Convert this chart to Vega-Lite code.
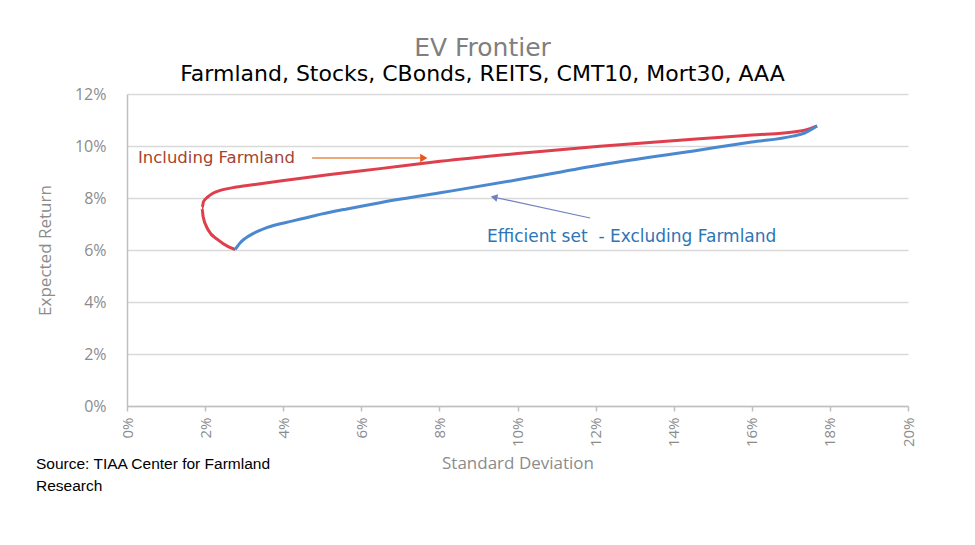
{
  "$schema": "https://vega.github.io/schema/vega-lite/v6.json",
  "width": 781,
  "height": 312,
  "autosize": "none",
  "padding": {"left": 127, "top": 94, "right": 67, "bottom": 139},
  "background": "white",
  "title": {
    "text": "EV Frontier",
    "subtitle": "Farmland, Stocks, CBonds, REITS, CMT10, Mort30, AAA",
    "anchor": "middle",
    "dx": -35,
    "font": "DejaVu Sans",
    "fontSize": 25,
    "fontWeight": "normal",
    "color": "#7f7f7f",
    "subtitleFont": "DejaVu Sans",
    "subtitleFontSize": 22,
    "subtitleColor": "#000000",
    "subtitlePadding": 3,
    "offset": 1
  },
  "config": {"view": {"stroke": null}},
  "datasets": {
    "curves": [
      {"series": "Including Farmland", "i": 0, "sd": 2.77, "ret": 6.02},
      {"series": "Including Farmland", "i": 1, "sd": 2.59, "ret": 6.13},
      {"series": "Including Farmland", "i": 2, "sd": 2.34, "ret": 6.38},
      {"series": "Including Farmland", "i": 3, "sd": 2.08, "ret": 6.77},
      {"series": "Including Farmland", "i": 4, "sd": 1.95, "ret": 7.28},
      {"series": "Including Farmland", "i": 5, "sd": 1.92, "ret": 7.62},
      {"series": "Including Farmland", "i": 6, "sd": 1.96, "ret": 7.86},
      {"series": "Including Farmland", "i": 7, "sd": 2.07, "ret": 8.04},
      {"series": "Including Farmland", "i": 8, "sd": 2.2, "ret": 8.18},
      {"series": "Including Farmland", "i": 9, "sd": 2.43, "ret": 8.31},
      {"series": "Including Farmland", "i": 10, "sd": 2.8, "ret": 8.42},
      {"series": "Including Farmland", "i": 11, "sd": 3.28, "ret": 8.52},
      {"series": "Including Farmland", "i": 12, "sd": 3.92, "ret": 8.65},
      {"series": "Including Farmland", "i": 13, "sd": 5.2, "ret": 8.9},
      {"series": "Including Farmland", "i": 14, "sd": 6.48, "ret": 9.13},
      {"series": "Including Farmland", "i": 15, "sd": 8.02, "ret": 9.41},
      {"series": "Including Farmland", "i": 16, "sd": 10.0, "ret": 9.71},
      {"series": "Including Farmland", "i": 17, "sd": 12.11, "ret": 9.99},
      {"series": "Including Farmland", "i": 18, "sd": 14.67, "ret": 10.28},
      {"series": "Including Farmland", "i": 19, "sd": 16.0, "ret": 10.42},
      {"series": "Including Farmland", "i": 20, "sd": 17.16, "ret": 10.56},
      {"series": "Including Farmland", "i": 21, "sd": 17.45, "ret": 10.65},
      {"series": "Including Farmland", "i": 22, "sd": 17.67, "ret": 10.77},
      {"series": "Excluding Farmland", "i": 0, "sd": 2.77, "ret": 6.02},
      {"series": "Excluding Farmland", "i": 1, "sd": 2.9, "ret": 6.28},
      {"series": "Excluding Farmland", "i": 2, "sd": 3.02, "ret": 6.44},
      {"series": "Excluding Farmland", "i": 3, "sd": 3.25, "ret": 6.65},
      {"series": "Excluding Farmland", "i": 4, "sd": 3.58, "ret": 6.86},
      {"series": "Excluding Farmland", "i": 5, "sd": 4.25, "ret": 7.12},
      {"series": "Excluding Farmland", "i": 6, "sd": 4.8, "ret": 7.32},
      {"series": "Excluding Farmland", "i": 7, "sd": 5.6, "ret": 7.57},
      {"series": "Excluding Farmland", "i": 8, "sd": 6.48, "ret": 7.82},
      {"series": "Excluding Farmland", "i": 9, "sd": 8.02, "ret": 8.2},
      {"series": "Excluding Farmland", "i": 10, "sd": 10.0, "ret": 8.7},
      {"series": "Excluding Farmland", "i": 11, "sd": 12.11, "ret": 9.27},
      {"series": "Excluding Farmland", "i": 12, "sd": 14.67, "ret": 9.85},
      {"series": "Excluding Farmland", "i": 13, "sd": 16.0, "ret": 10.15},
      {"series": "Excluding Farmland", "i": 14, "sd": 17.05, "ret": 10.38},
      {"series": "Excluding Farmland", "i": 15, "sd": 17.35, "ret": 10.5},
      {"series": "Excluding Farmland", "i": 16, "sd": 17.67, "ret": 10.77}
    ],
    "arrows": [
      {"name": "inc", "sd": 4.74, "ret": 9.54, "sd2": 7.6, "ret2": 9.54},
      {"name": "exc", "sd": 11.86, "ret": 7.23, "sd2": 9.4, "ret2": 8.03}
    ],
    "labels": [
      {"name": "inc", "sd": 0.28, "ret": 9.54, "label": "Including Farmland"},
      {"name": "exc", "sd": 9.22, "ret": 6.5, "label": "Efficient set\u00a0 - Excluding Farmland"},
      {"name": "src", "sd": -2.33, "ret": -1.95, "label": "Source: TIAA Center for Farmland\nResearch"}
    ]
  },
  "layer": [
    {
      "data": {"name": "curves"},
      "mark": {"type": "line", "strokeWidth": 3, "interpolate": "monotone", "clip": false},
      "encoding": {
        "x": {
          "field": "sd", "type": "quantitative",
          "scale": {"domain": [0, 20], "nice": false},
          "axis": {
            "title": "Standard Deviation",
            "values": [0,0.5,1,1.5,2,2.5,3,3.5,4,4.5,5,5.5,6,6.5,7,7.5,8,8.5,9,9.5,10,10.5,11,11.5,12,12.5,13,13.5,14,14.5,15,15.5,16,16.5,17,17.5,18,18.5,19,19.5,20],
            "labelExpr": "datum.value % 2 === 0 ? datum.value + '%' : ''",
            "labelAngle": 270,
            "labelAlign": "right",
            "labelBaseline": "middle",
            "labelFont": "Open Sans",
            "labelFontSize": 15,
            "labelColor": "#8c8c8c",
            "labelPadding": 6,
            "labelOverlap": false,
            "labelFlush": false,
            "grid": false,
            "domainColor": "#bfbfbf",
            "domainWidth": 1.5,
            "tickColor": "#bfbfbf",
            "tickSize": 5,
            "tickWidth": 1.5,
            "titleFont": "Open Sans",
            "titleFontSize": 17,
            "titleFontWeight": "normal",
            "titleColor": "#8c8c8c",
            "titlePadding": 9
          }
        },
        "y": {
          "field": "ret", "type": "quantitative",
          "scale": {"domain": [0, 12], "nice": false},
          "axis": {
            "title": "Expected Return",
            "values": [0, 2, 4, 6, 8, 10, 12],
            "labelExpr": "datum.value + '%'",
            "labelFont": "Open Sans",
            "labelFontSize": 16,
            "labelColor": "#8c8c8c",
            "labelPadding": 21,
            "ticks": false,
            "grid": true,
            "gridColor": "#d9d9d9",
            "gridWidth": 1.5,
            "domainColor": "#bfbfbf",
            "domainWidth": 1.5,
            "titleFont": "Open Sans",
            "titleFontSize": 17,
            "titleFontWeight": "normal",
            "titleColor": "#8c8c8c",
            "titlePadding": 20
          }
        },
        "order": {"field": "i", "type": "quantitative"},
        "color": {
          "field": "series", "type": "nominal",
          "scale": {"domain": ["Excluding Farmland", "Including Farmland"], "range": ["#4a88cf", "#df3f4c"]},
          "legend": null
        }
      }
    },
    {
      "data": {"name": "arrows"},
      "transform": [{"filter": "datum.name === 'inc'"}],
      "mark": {"type": "rule", "color": "#e98a4f", "strokeWidth": 1.5},
      "encoding": {
        "x": {"field": "sd", "type": "quantitative"},
        "y": {"field": "ret", "type": "quantitative"},
        "x2": {"field": "sd2"},
        "y2": {"field": "ret2"}
      }
    },
    {
      "data": {"name": "arrows"},
      "transform": [{"filter": "datum.name === 'exc'"}],
      "mark": {"type": "rule", "color": "#6f7fc0", "strokeWidth": 1.2},
      "encoding": {
        "x": {"field": "sd", "type": "quantitative"},
        "y": {"field": "ret", "type": "quantitative"},
        "x2": {"field": "sd2"},
        "y2": {"field": "ret2"}
      }
    },
    {
      "data": {"name": "arrows"},
      "transform": [{"filter": "datum.name === 'inc'"}],
      "mark": {"type": "point", "shape": "triangle-right", "filled": true, "color": "#e8541a", "size": 70, "opacity": 1},
      "encoding": {
        "x": {"field": "sd2", "type": "quantitative"},
        "y": {"field": "ret2", "type": "quantitative"}
      }
    },
    {
      "data": {"name": "arrows"},
      "transform": [{"filter": "datum.name === 'exc'"}],
      "mark": {"type": "point", "shape": "triangle-up", "angle": 282, "filled": true, "color": "#6f7fc0", "size": 60, "opacity": 1},
      "encoding": {
        "x": {"field": "sd2", "type": "quantitative"},
        "y": {"field": "ret2", "type": "quantitative"}
      }
    },
    {
      "data": {"name": "labels"},
      "transform": [{"filter": "datum.name === 'inc'"}],
      "mark": {"type": "text", "align": "left", "baseline": "middle", "font": "DejaVu Sans", "fontSize": 16.5, "color": "#a5432f"},
      "encoding": {
        "x": {"field": "sd", "type": "quantitative"},
        "y": {"field": "ret", "type": "quantitative"},
        "text": {"field": "label"}
      }
    },
    {
      "data": {"name": "labels"},
      "transform": [{"filter": "datum.name === 'exc'"}],
      "mark": {"type": "text", "align": "left", "baseline": "middle", "font": "DejaVu Sans", "fontSize": 17, "color": "#2e75b6"},
      "encoding": {
        "x": {"field": "sd", "type": "quantitative"},
        "y": {"field": "ret", "type": "quantitative"},
        "text": {"field": "label"}
      }
    },
    {
      "data": {"name": "labels"},
      "transform": [{"filter": "datum.name === 'src'"}],
      "mark": {"type": "text", "align": "left", "baseline": "top", "font": "Liberation Sans", "fontSize": 15.5, "lineHeight": 22, "color": "#000000", "lineBreak": "\n"},
      "encoding": {
        "x": {"field": "sd", "type": "quantitative"},
        "y": {"field": "ret", "type": "quantitative"},
        "text": {"field": "label"}
      }
    }
  ]
}
